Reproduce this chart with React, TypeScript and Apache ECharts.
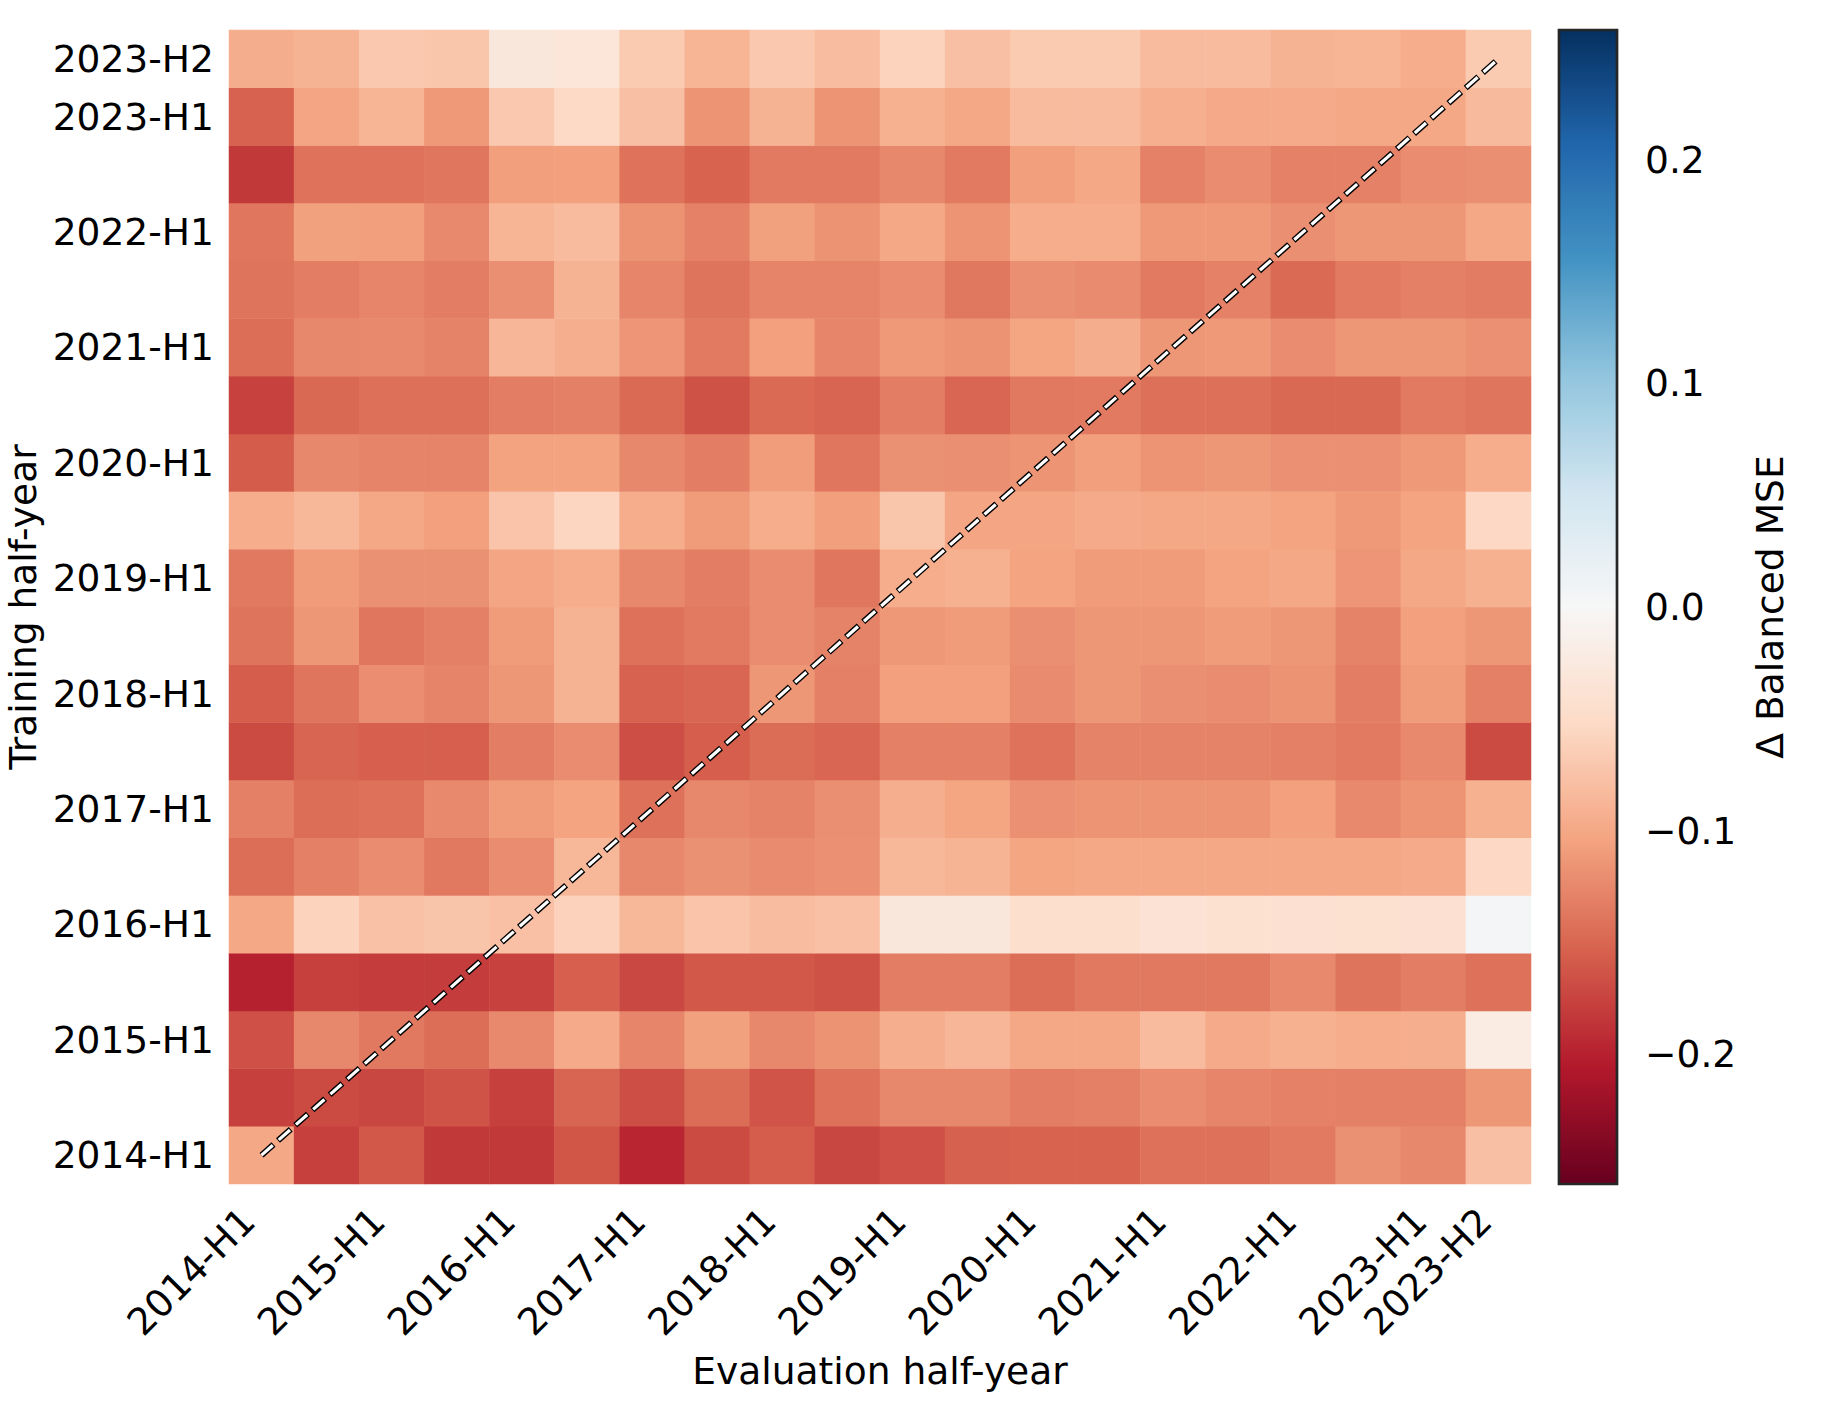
import React, { useEffect, useRef } from 'react';
import * as echarts from 'echarts';

// Half-year periods, used for both the evaluation (x) and training (y) axes
const HALF_YEARS = [
  '2014-H1', '2014-H2', '2015-H1', '2015-H2', '2016-H1', '2016-H2', '2017-H1', '2017-H2',
  '2018-H1', '2018-H2', '2019-H1', '2019-H2', '2020-H1', '2020-H2', '2021-H1', '2021-H2',
  '2022-H1', '2022-H2', '2023-H1', '2023-H2',
];

// Δ balanced MSE for each training half-year, across the 20 evaluation half-years
const train2014H1 = [-0.100, -0.178, -0.160, -0.183, -0.183, -0.162, -0.197, -0.170, -0.157, -0.173, -0.166, -0.154, -0.152, -0.152, -0.142, -0.142, -0.135, -0.118, -0.125, -0.078];
const train2014H2 = [-0.178, -0.170, -0.173, -0.164, -0.178, -0.151, -0.168, -0.146, -0.163, -0.142, -0.125, -0.125, -0.132, -0.131, -0.122, -0.127, -0.130, -0.131, -0.131, -0.114];
const train2015H1 = [-0.166, -0.125, -0.136, -0.145, -0.124, -0.098, -0.127, -0.106, -0.126, -0.117, -0.094, -0.087, -0.100, -0.100, -0.082, -0.098, -0.092, -0.096, -0.094, -0.022];
const train2015H2 = [-0.200, -0.178, -0.180, -0.180, -0.176, -0.155, -0.172, -0.160, -0.160, -0.165, -0.132, -0.132, -0.145, -0.136, -0.136, -0.136, -0.124, -0.140, -0.132, -0.142];
const train2016H1 = [-0.100, -0.058, -0.076, -0.073, -0.077, -0.060, -0.085, -0.074, -0.080, -0.077, -0.029, -0.030, -0.045, -0.045, -0.038, -0.042, -0.040, -0.042, -0.040, 0.005];
const train2016H2 = [-0.145, -0.131, -0.122, -0.136, -0.122, -0.086, -0.125, -0.118, -0.123, -0.119, -0.086, -0.089, -0.103, -0.100, -0.100, -0.100, -0.100, -0.100, -0.098, -0.054];
const train2017H1 = [-0.131, -0.144, -0.142, -0.124, -0.110, -0.104, -0.142, -0.125, -0.129, -0.120, -0.094, -0.103, -0.119, -0.116, -0.116, -0.116, -0.107, -0.124, -0.116, -0.092];
const train2017H2 = [-0.170, -0.151, -0.155, -0.155, -0.133, -0.122, -0.168, -0.156, -0.146, -0.150, -0.131, -0.131, -0.141, -0.129, -0.129, -0.129, -0.131, -0.135, -0.124, -0.170];
const train2018H1 = [-0.157, -0.139, -0.121, -0.128, -0.114, -0.090, -0.153, -0.150, -0.114, -0.131, -0.107, -0.107, -0.123, -0.114, -0.120, -0.122, -0.117, -0.132, -0.110, -0.131];
const train2018H2 = [-0.140, -0.114, -0.138, -0.131, -0.110, -0.090, -0.142, -0.135, -0.122, -0.129, -0.113, -0.110, -0.120, -0.114, -0.114, -0.110, -0.114, -0.129, -0.107, -0.114];
const train2019H1 = [-0.136, -0.110, -0.118, -0.118, -0.102, -0.096, -0.125, -0.132, -0.122, -0.138, -0.096, -0.092, -0.104, -0.110, -0.110, -0.104, -0.100, -0.115, -0.100, -0.092];
const train2019H2 = [-0.096, -0.085, -0.100, -0.107, -0.074, -0.056, -0.096, -0.110, -0.096, -0.108, -0.072, -0.102, -0.102, -0.098, -0.100, -0.100, -0.104, -0.112, -0.104, -0.054];
const train2020H1 = [-0.158, -0.125, -0.128, -0.128, -0.105, -0.105, -0.125, -0.132, -0.109, -0.138, -0.118, -0.120, -0.116, -0.108, -0.116, -0.114, -0.119, -0.119, -0.112, -0.096];
const train2020H2 = [-0.177, -0.148, -0.143, -0.143, -0.133, -0.131, -0.147, -0.165, -0.147, -0.151, -0.132, -0.150, -0.136, -0.135, -0.143, -0.143, -0.148, -0.148, -0.135, -0.139];
const train2021H1 = [-0.145, -0.126, -0.124, -0.129, -0.087, -0.094, -0.115, -0.135, -0.107, -0.127, -0.112, -0.117, -0.103, -0.095, -0.114, -0.112, -0.122, -0.114, -0.114, -0.119];
const train2021H2 = [-0.140, -0.133, -0.127, -0.133, -0.120, -0.090, -0.127, -0.140, -0.128, -0.128, -0.122, -0.137, -0.120, -0.123, -0.135, -0.130, -0.147, -0.135, -0.131, -0.134];
const train2022H1 = [-0.138, -0.106, -0.108, -0.124, -0.088, -0.082, -0.117, -0.130, -0.106, -0.117, -0.100, -0.116, -0.096, -0.096, -0.112, -0.112, -0.120, -0.114, -0.114, -0.100];
const train2022H2 = [-0.183, -0.141, -0.141, -0.138, -0.108, -0.107, -0.141, -0.152, -0.135, -0.135, -0.125, -0.135, -0.108, -0.100, -0.130, -0.122, -0.130, -0.130, -0.122, -0.120];
const train2023H1 = [-0.153, -0.102, -0.088, -0.112, -0.070, -0.053, -0.078, -0.116, -0.090, -0.116, -0.092, -0.100, -0.082, -0.082, -0.093, -0.099, -0.098, -0.100, -0.100, -0.083];
const train2023H2 = [-0.095, -0.090, -0.070, -0.072, -0.030, -0.032, -0.068, -0.088, -0.070, -0.080, -0.058, -0.078, -0.068, -0.068, -0.082, -0.082, -0.090, -0.088, -0.096, -0.068];

// Rows in the same order as HALF_YEARS (bottom to top)
const TRAINING_ROWS = [
  train2014H1, train2014H2, train2015H1, train2015H2, train2016H1, train2016H2,
  train2017H1, train2017H2, train2018H1, train2018H2, train2019H1, train2019H2,
  train2020H1, train2020H2, train2021H1, train2021H2, train2022H1, train2022H2,
  train2023H1, train2023H2,
];

// Symmetric colour limits and colour-bar ticks
const COLOR_MIN = -0.258;
const COLOR_MAX = 0.258;
const COLORBAR_TICKS = [-0.2, -0.1, 0, 0.1, 0.2];

// Diverging red-blue palette, low to high
const RDBU = [
  '#67001f', '#b2182b', '#d6604d', '#f4a582', '#fddbc7', '#f7f7f7',
  '#d1e5f0', '#92c5de', '#4393c3', '#2166ac', '#053061',
];

const FONT = 'DejaVu Sans';
const FS = 37.6;

const showTick = (i: number, v: string) => v.endsWith('H1') || i === HALF_YEARS.length - 1;

export default function App() {
  const ref = useRef<HTMLDivElement>(null);

  useEffect(() => {
    document.body.style.margin = '0';
    const chart = echarts.init(ref.current!, null, { renderer: 'svg' });

    const cells: [number, number, number][] = [];
    TRAINING_ROWS.forEach((row, yi) => row.forEach((v, xi) => cells.push([xi, yi, v])));

    const first = HALF_YEARS[0];
    const last = HALF_YEARS[HALF_YEARS.length - 1];
    const diagonal = [[first, first], [last, last]];

    const textStyle = { fontFamily: FONT, fontSize: FS, color: '#000' };

    chart.setOption({
      animation: false,
      backgroundColor: '#fff',
      grid: [
        { left: 229, top: 30, width: 1302, height: 1154, outerBoundsMode: 'none' },
        {
          left: 1559, top: 30, width: 58, height: 1154, outerBoundsMode: 'none',
          show: true, borderColor: '#262626', borderWidth: 2.7,
          backgroundColor: 'transparent', z: 10,
        },
      ],
      xAxis: [
        {
          type: 'category', gridIndex: 0, data: HALF_YEARS,
          axisLine: { show: false }, axisTick: { show: false }, splitLine: { show: false },
          axisLabel: {
            ...textStyle, interval: showTick, rotate: 45,
            align: 'right', verticalAlign: 'bottom', margin: 44,
          },
          name: 'Evaluation half-year', nameLocation: 'middle', nameGap: 168,
          nameMoveOverlap: false, nameTextStyle: textStyle,
        },
        { type: 'value', gridIndex: 1, show: false, min: 0, max: 1 },
      ],
      yAxis: [
        {
          type: 'category', gridIndex: 0, data: HALF_YEARS,
          axisLine: { show: false }, axisTick: { show: false }, splitLine: { show: false },
          axisLabel: { ...textStyle, interval: showTick, margin: 15 },
          name: 'Training half-year', nameLocation: 'middle', nameGap: 187,
          nameRotate: 90, nameMoveOverlap: false, nameTextStyle: textStyle,
        },
        {
          type: 'value', gridIndex: 1, position: 'right', min: COLOR_MIN, max: COLOR_MAX,
          axisLine: { show: false }, splitLine: { show: false },
          axisTick: {
            show: true, length: 12, customValues: COLORBAR_TICKS,
            lineStyle: { color: '#000', width: 2.67 },
          },
          axisLabel: {
            ...textStyle, margin: 28, customValues: COLORBAR_TICKS,
            formatter: (v: number) => v.toFixed(1).replace('-', '\u2212'),
          },
          name: '\u0394 Balanced MSE', nameLocation: 'middle', nameGap: 134,
          nameRotate: 90, nameMoveOverlap: false, nameTextStyle: textStyle,
        },
      ],
      visualMap: {
        type: 'continuous', min: COLOR_MIN, max: COLOR_MAX, seriesIndex: 0,
        inRange: { color: RDBU }, calculable: false, hoverLink: false,
        orient: 'vertical', left: 1559, top: 30, itemWidth: 58, itemHeight: 1154,
        padding: 0, text: null, showLabel: false,
      },
      series: [
        {
          type: 'heatmap', xAxisIndex: 0, yAxisIndex: 0, data: cells,
          silent: true, emphasis: { disabled: true }, itemStyle: { borderWidth: 0 },
        },
        {
          type: 'line', xAxisIndex: 0, yAxisIndex: 0, data: diagonal, symbol: 'none',
          silent: true, z: 5,
          lineStyle: { color: '#000', width: 6, type: [17, 6], dashOffset: 1, cap: 'butt' },
        },
        {
          type: 'line', xAxisIndex: 0, yAxisIndex: 0, data: diagonal, symbol: 'none',
          silent: true, z: 6,
          lineStyle: { color: '#fff', width: 3.2, type: [15, 8], cap: 'butt' },
        },
      ],
    });

    return () => chart.dispose();
  }, []);

  return <div ref={ref} style={{ width: 1821, height: 1424 }} />;
}
